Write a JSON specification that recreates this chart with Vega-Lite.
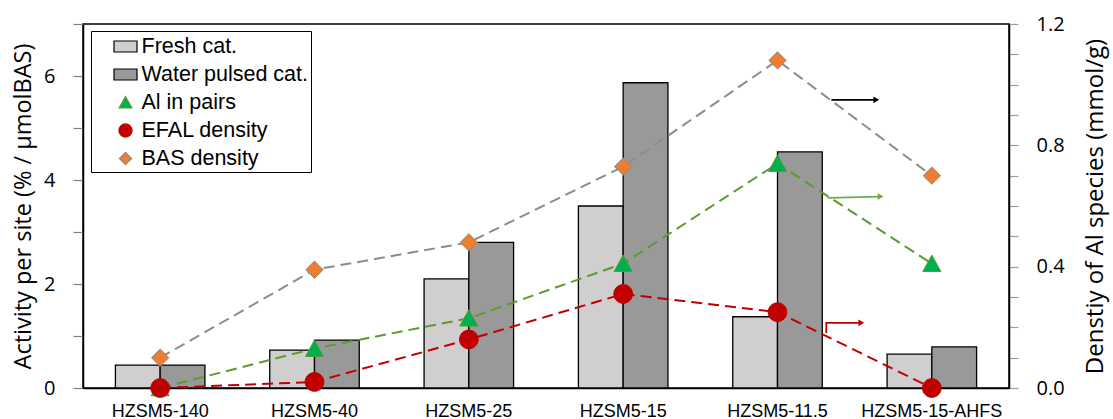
{
  "$schema": "https://vega.github.io/schema/vega-lite/v6.json",
  "width": 926,
  "height": 364,
  "autosize": {"type": "none"},
  "padding": {"left": 83, "top": 24, "right": 104, "bottom": 31},
  "background": "white",
  "config": {
    "view": {"stroke": "black", "strokeWidth": 1.5},
    "axis": {"grid": false, "domainColor": "black", "domainWidth": 1.5, "labelColor": "black", "titleColor": "black"},
    "legend": {
      "orient": "none", "legendX": 8, "legendY": 7, "padding": 3, "symbolOffset": 19, "labelOffset": 3.5,
      "rowPadding": 5, "symbolSize": 529, "strokeColor": "black", "fillColor": "white",
      "labelFont": "Liberation Sans", "labelFontSize": 21.5, "labelColor": "black", "symbolStrokeWidth": 1.2, "labelLimit": 400,
      "labelExpr": "datum.label + '\u00a0\u00a0\u2800'"
    }
  },
  "datasets": {
    "bars": [
      {"cat": "HZSM5-140", "series": "Fresh cat.", "value": 0.44},
      {"cat": "HZSM5-140", "series": "Water pulsed cat.", "value": 0.44},
      {"cat": "HZSM5-40", "series": "Fresh cat.", "value": 0.73},
      {"cat": "HZSM5-40", "series": "Water pulsed cat.", "value": 0.92},
      {"cat": "HZSM5-25", "series": "Fresh cat.", "value": 2.10},
      {"cat": "HZSM5-25", "series": "Water pulsed cat.", "value": 2.80},
      {"cat": "HZSM5-15", "series": "Fresh cat.", "value": 3.50},
      {"cat": "HZSM5-15", "series": "Water pulsed cat.", "value": 5.87},
      {"cat": "HZSM5-11.5", "series": "Fresh cat.", "value": 1.37},
      {"cat": "HZSM5-11.5", "series": "Water pulsed cat.", "value": 4.54},
      {"cat": "HZSM5-15-AHFS", "series": "Fresh cat.", "value": 0.65},
      {"cat": "HZSM5-15-AHFS", "series": "Water pulsed cat.", "value": 0.79}
    ],
    "lines": [
      {"cat": "HZSM5-140", "idx": 0, "series": "Al in pairs", "value": 0.0},
      {"cat": "HZSM5-40", "idx": 1, "series": "Al in pairs", "value": 0.13},
      {"cat": "HZSM5-25", "idx": 2, "series": "Al in pairs", "value": 0.23},
      {"cat": "HZSM5-15", "idx": 3, "series": "Al in pairs", "value": 0.41},
      {"cat": "HZSM5-11.5", "idx": 4, "series": "Al in pairs", "value": 0.74},
      {"cat": "HZSM5-15-AHFS", "idx": 5, "series": "Al in pairs", "value": 0.41},
      {"cat": "HZSM5-140", "idx": 0, "series": "EFAL density", "value": 0.0},
      {"cat": "HZSM5-40", "idx": 1, "series": "EFAL density", "value": 0.02},
      {"cat": "HZSM5-25", "idx": 2, "series": "EFAL density", "value": 0.16},
      {"cat": "HZSM5-15", "idx": 3, "series": "EFAL density", "value": 0.31},
      {"cat": "HZSM5-11.5", "idx": 4, "series": "EFAL density", "value": 0.25},
      {"cat": "HZSM5-15-AHFS", "idx": 5, "series": "EFAL density", "value": 0.0},
      {"cat": "HZSM5-140", "idx": 0, "series": "BAS density", "value": 0.10},
      {"cat": "HZSM5-40", "idx": 1, "series": "BAS density", "value": 0.39},
      {"cat": "HZSM5-25", "idx": 2, "series": "BAS density", "value": 0.48},
      {"cat": "HZSM5-15", "idx": 3, "series": "BAS density", "value": 0.73},
      {"cat": "HZSM5-11.5", "idx": 4, "series": "BAS density", "value": 1.08},
      {"cat": "HZSM5-15-AHFS", "idx": 5, "series": "BAS density", "value": 0.70}
    ],
    "arrows": [
      {"arrow": "bas", "ord": 0, "ax": 4.349, "ay": 0.95, "head": false},
      {"arrow": "bas", "ord": 1, "ax": 4.64, "ay": 0.95, "head": true},
      {"arrow": "al", "ord": 0, "ax": 4.325, "ay": 0.627, "head": false},
      {"arrow": "al", "ord": 1, "ax": 4.668, "ay": 0.631, "head": true},
      {"arrow": "efal", "ord": 0, "ax": 4.316, "ay": 0.181, "head": false},
      {"arrow": "efal", "ord": 1, "ax": 4.316, "ay": 0.215, "head": false},
      {"arrow": "efal", "ord": 2, "ax": 4.543, "ay": 0.215, "head": true}
    ]
  },
  "resolve": {"scale": {"x": "independent", "y": "independent"}},
  "layer": [
    {
      "data": {"name": "bars"},
      "mark": {"type": "bar", "strokeWidth": 1.3, "opacity": 1},
      "encoding": {
        "x": {
          "field": "cat", "type": "nominal",
          "sort": ["HZSM5-140", "HZSM5-40", "HZSM5-25", "HZSM5-15", "HZSM5-11.5", "HZSM5-15-AHFS"],
          "scale": {"paddingInner": 0.42, "paddingOuter": 0.21},
          "axis": {"title": null, "labelAngle": 0, "ticks": false, "labelPadding": 14, "labelFont": "Liberation Sans", "labelFontSize": 18}
        },
        "xOffset": {"field": "series", "type": "nominal", "scale": {"domain": ["Fresh cat.", "Water pulsed cat."], "paddingInner": 0, "paddingOuter": 0}},
        "y": {
          "field": "value", "type": "quantitative",
          "scale": {"domain": [0, 7], "nice": false},
          "axis": {
            "title": "Activity per site (% / µmolBAS)", "values": [0, 1, 2, 3, 4, 5, 6, 7],
            "labelExpr": "datum.value % 2 === 0 ? datum.label : ''",
            "tickSize": 10, "tickColor": "#808080", "tickWidth": 1.2, "labelPadding": 18,
            "labelFont": "Open Sans", "labelFontSize": 20,
            "titleFont": "Open Sans", "titleFontSize": 23.5, "titleFontWeight": "normal", "titlePadding": 8
          }
        },
        "fill": {
          "field": "series", "type": "nominal",
          "scale": {"domain": ["Fresh cat.", "Water pulsed cat.", "Al in pairs", "EFAL density", "BAS density"], "range": ["#d0cece", "#999999", "#00b050", "#c00000", "#ed7d31"]},
          "legend": {"title": null}
        },
        "stroke": {
          "field": "series", "type": "nominal",
          "scale": {"domain": ["Fresh cat.", "Water pulsed cat.", "Al in pairs", "EFAL density", "BAS density"], "range": ["#000000", "#000000", "#5b9b31", "#c00000", "#8c8c8c"]},
          "legend": {"title": null}
        }
      }
    },
    {
      "data": {"name": "lines"},
      "encoding": {
        "x": {
          "field": "cat", "type": "nominal",
          "sort": ["HZSM5-140", "HZSM5-40", "HZSM5-25", "HZSM5-15", "HZSM5-11.5", "HZSM5-15-AHFS"],
          "scale": {"paddingInner": 0.42, "paddingOuter": 0.21},
          "axis": null
        },
        "y": {
          "field": "value", "type": "quantitative",
          "scale": {"domain": [0, 1.2], "nice": false},
          "axis": {
            "orient": "right", "title": "Denstiy of Al species (mmol/g)",
            "values": [0, 0.1, 0.2, 0.3, 0.4, 0.5, 0.6, 0.7, 0.8, 0.9, 1.0, 1.1, 1.2],
            "labelExpr": "round(datum.value * 10) % 4 === 0 ? format(datum.value, '.1f') : ''",
            "tickSize": 9, "tickColor": "#a0a0a0", "tickWidth": 1.2, "labelPadding": 18,
            "labelFont": "Open Sans", "labelFontSize": 20,
            "titleFont": "Open Sans", "titleFontSize": 24, "titleFontWeight": "normal",
            "titleAngle": 270, "titleBaseline": "top", "titlePadding": 19
          }
        }
      },
      "layer": [
        {
          "mark": {"type": "line", "strokeWidth": 2, "strokeDash": [11, 6], "opacity": 1},
          "encoding": {
            "order": {"field": "idx", "type": "quantitative"},
            "stroke": {"field": "series", "type": "nominal", "legend": null}
          }
        },
        {
          "mark": {"type": "point", "filled": true, "size": 1076, "strokeWidth": 1, "opacity": 1},
          "encoding": {
            "fill": {"field": "series", "type": "nominal", "legend": {"title": null}},
            "stroke": {"field": "series", "type": "nominal", "legend": {"title": null}},
            "shape": {
              "field": "series", "type": "nominal",
              "scale": {
                "domain": ["Fresh cat.", "Water pulsed cat.", "Al in pairs", "EFAL density", "BAS density"],
                "range": [
                  "M-1,-0.48L1,-0.48L1,0.48L-1,0.48Z",
                  "M-1,-0.48L1,-0.48L1,0.48L-1,0.48Z",
                  "M0,-0.52L0.55,0.48L-0.55,0.48Z",
                  "M0.57,0A0.57,0.57,0,1,1,-0.57,0A0.57,0.57,0,1,1,0.57,0Z",
                  "M0,-0.53L0.53,0L0,0.53L-0.53,0Z"
                ]
              },
              "legend": {"title": null}
            }
          }
        }
      ]
    },
    {
      "data": {"name": "arrows"},
      "encoding": {
        "x": {"field": "ax", "type": "quantitative", "scale": {"domain": [-0.5, 5.5], "nice": false, "zero": false}, "axis": null},
        "y": {"field": "ay", "type": "quantitative", "scale": {"domain": [0, 1.2], "nice": false}, "axis": null},
        "color": {"field": "arrow", "type": "nominal", "scale": {"domain": ["bas", "al", "efal"], "range": ["#000000", "#70ad47", "#c00000"]}, "legend": null}
      },
      "layer": [
        {
          "mark": {"type": "line", "strokeWidth": 1.8, "opacity": 1},
          "encoding": {"order": {"field": "ord", "type": "quantitative"}}
        },
        {
          "transform": [{"filter": "datum.head"}],
          "mark": {"type": "point", "shape": "triangle-right", "filled": true, "size": 45, "opacity": 1}
        }
      ]
    }
  ]
}
